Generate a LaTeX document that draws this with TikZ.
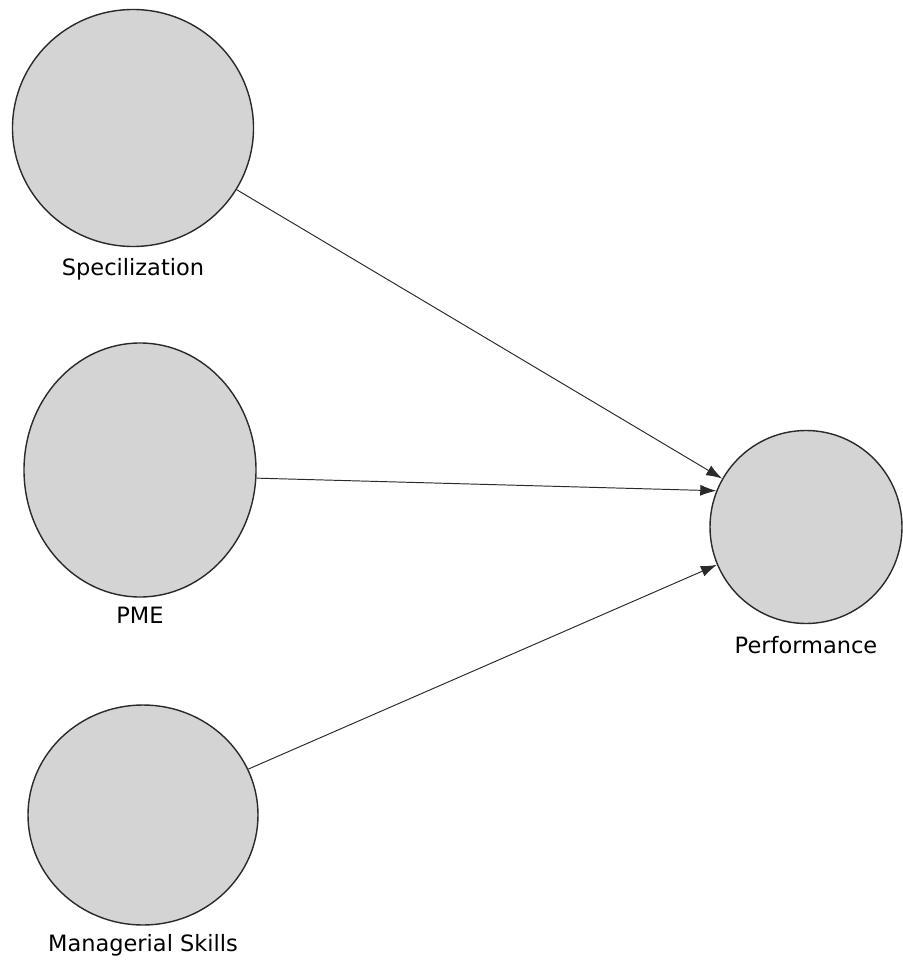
\documentclass[tikz,border=0pt]{standalone}
\usepackage{fontspec}
\setmainfont{DejaVu Sans}
\usepackage{xcolor}
\usetikzlibrary{arrows.meta,shapes.geometric,positioning}
\definecolor{latentgray}{HTML}{D4D4D4}
\definecolor{pathblack}{HTML}{2A2A2A}

\begin{document}
\begin{tikzpicture}[
  >={Latex[length=3.2mm,width=2.2mm]},
  latent/.style={draw=pathblack,ellipse,line width=0.8pt,fill=latentgray,inner sep=0pt},
  caption/.style={font=\fontsize{12.8}{14}\selectfont,inner sep=1pt},
  path/.style={pathblack,line width=0.55pt,->}
]
  \useasboundingbox (0,0) rectangle (18.04,-19.2);
  % constructs
  \node[latent,minimum width=4.82cm,minimum height=4.74cm] (spec) at (2.66,-2.56) {};
  \node[latent,minimum width=4.64cm,minimum height=5.08cm] (pme) at (2.80,-9.40) {};
  \node[latent,minimum width=4.60cm,minimum height=4.40cm] (skills) at (2.86,-16.30) {};
  \node[latent,minimum width=3.84cm,minimum height=3.86cm] (perf) at (16.12,-10.54) {};
  % names under the circles
  \node[caption,below=1.8mm of spec] (specname) {Specilization};
  \node[caption,below=1.4mm of pme] (pmename) {PME};
  \node[caption,below=1.4mm of skills] (skillsname) {Managerial Skills};
  \node[caption,below=2mm of perf] (perfname) {Performance};
  % paths
  \draw[path] (spec) -- (perf.150);
  \draw[path] (pme.-4) -- (perf.158);
  \draw[path] (skills) -- (perf.203);
\end{tikzpicture}
\end{document}
